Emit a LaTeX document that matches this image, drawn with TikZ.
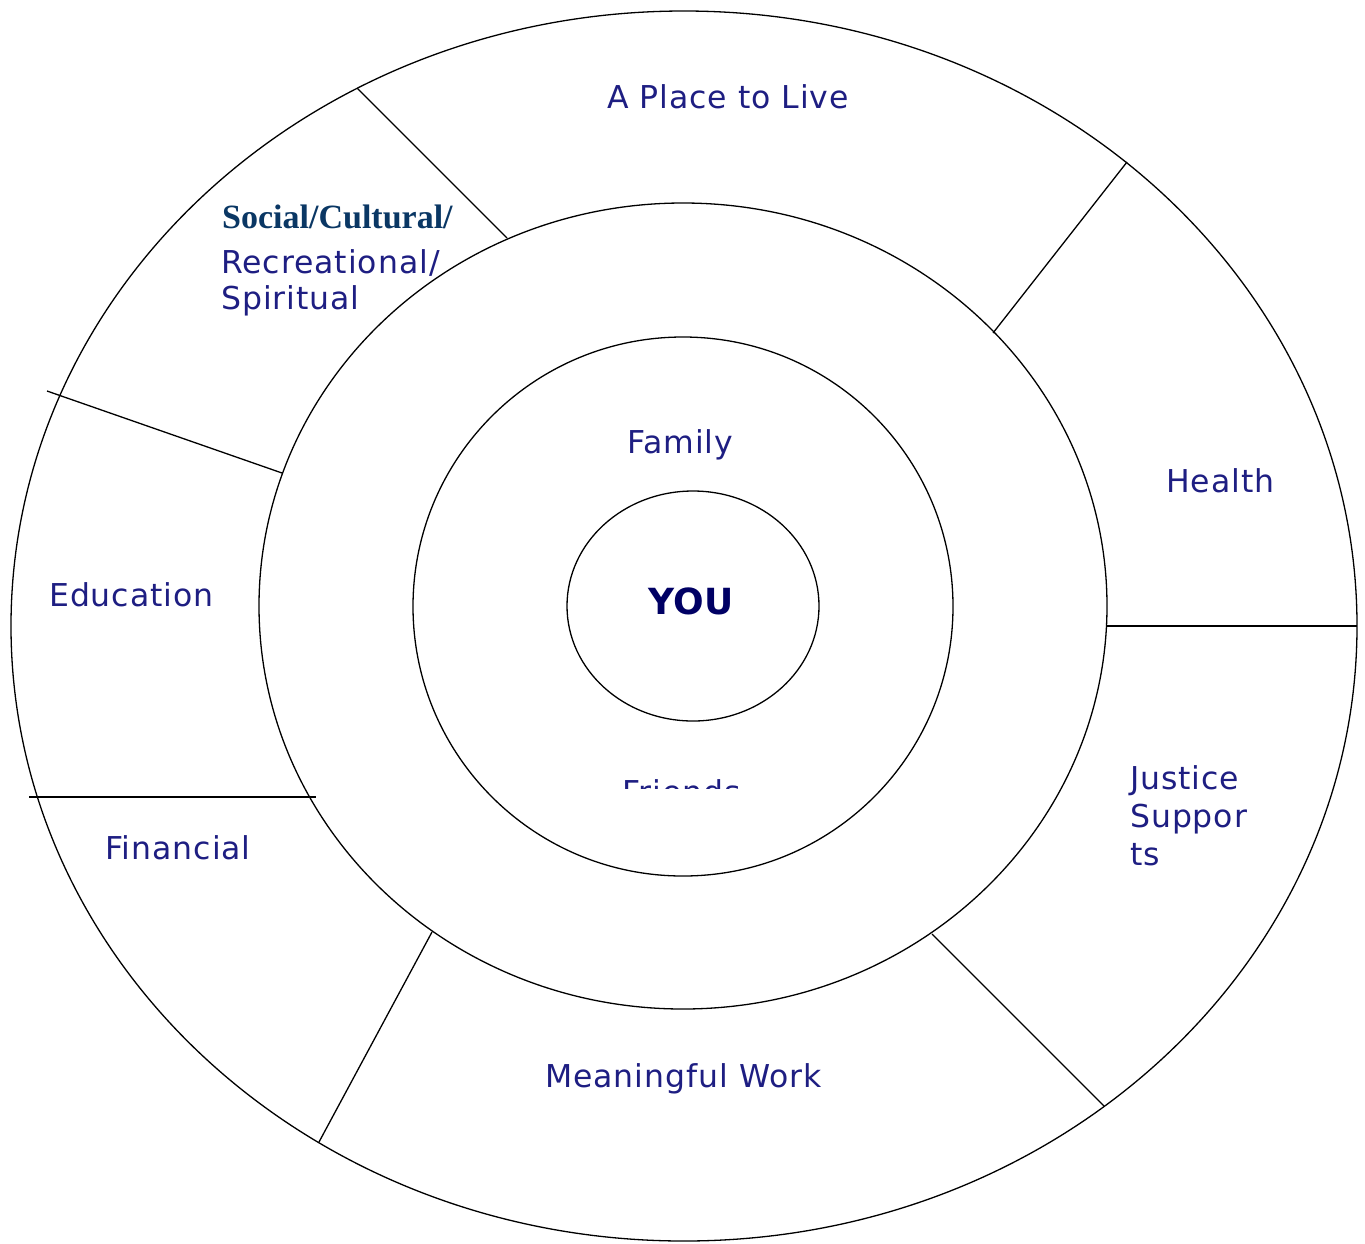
\documentclass[tikz,border=0pt]{standalone}
\usepackage{fontspec}
\setmainfont{DejaVu Sans}[LetterSpace=3]
\newfontfamily\serifbold{Liberation Serif}
\newfontfamily\youfont{DejaVu Sans}
\begin{document}
\begin{tikzpicture}[x=1pt,y=-1pt,
  ring/.style={draw=black, line width=1.3pt},
  divider/.style={draw=black, line width=1.3pt},
  lbl/.style={text=navytext, inner sep=0pt, anchor=base west, font=\fontsize{31.5}{38}\selectfont},
  youlbl/.style={text=navydark, inner sep=0pt, font=\youfont\fontsize{36}{40}\selectfont\bfseries}]
\definecolor{navytext}{RGB}{30,30,130}
\definecolor{navydark}{RGB}{0,0,100}
\definecolor{socialblue}{RGB}{10,55,100}
\useasboundingbox (0,0) rectangle (1365,1243);

% concentric rings
\draw[ring] (684,626) ellipse [x radius=673, y radius=615];
\draw[ring] (683,606) ellipse [x radius=424, y radius=403];
\draw[ring] (683,606.5) ellipse [x radius=270, y radius=269.5];
\draw[ring] (693,606) ellipse [x radius=126, y radius=115];

% spokes of the outer band
\coordinate (s1a) at (357,88);   \coordinate (s1b) at (507,238);
\coordinate (s2a) at (1127,162); \coordinate (s2b) at (993,333);
\coordinate (s3a) at (1107,626); \coordinate (s3b) at (1357,626);
\coordinate (s4a) at (932,934);  \coordinate (s4b) at (1104,1106);
\coordinate (s5a) at (432,932);  \coordinate (s5b) at (319,1142);
\coordinate (s6a) at (29,797);   \coordinate (s6b) at (316,797);
\coordinate (s7a) at (47,391);   \coordinate (s7b) at (282,473);
\draw[divider] (s1a) -- (s1b);
\draw[divider] (s2a) -- (s2b);
\draw[divider] (s3a) -- (s3b);
\draw[divider] (s4a) -- (s4b);
\draw[divider] (s5a) -- (s5b);
\draw[divider] (s6a) -- (s6b);
\draw[divider] (s7a) -- (s7b);

% labels
\node[lbl] (place) at (607,108) {A Place to Live};
\node[lbl] (health) at (1166,492) {Health};
\node[lbl] (justice) at (1130,789) {Justice};
\node[lbl] (suppor) at (1130,827) {Suppor};
\node[lbl] (ts) at (1130,865) {ts};
\node[lbl] (work) at (545,1087) {Meaningful Work};
\node[lbl] (financial) at (105,859) {Financial};
\node[lbl] (education) at (49,606) {Education};
\node[lbl, text=socialblue, font=\serifbold\fontsize{34}{38}\selectfont\bfseries] (social) at (222,228) {Social/Cultural/};
\node[lbl] (recre) at (221,273) {Recreational/};
\node[lbl] (spirit) at (221,309) {Spiritual};
\node[lbl] (family) at (627,453) {Family};
\node[youlbl] (you) at (691,601) {YOU};
\begin{scope}
  \clip (560,770) rectangle (800,788);
  \node[lbl] (friends) at (622,803) {Friends};
\end{scope}
\end{tikzpicture}
\end{document}
